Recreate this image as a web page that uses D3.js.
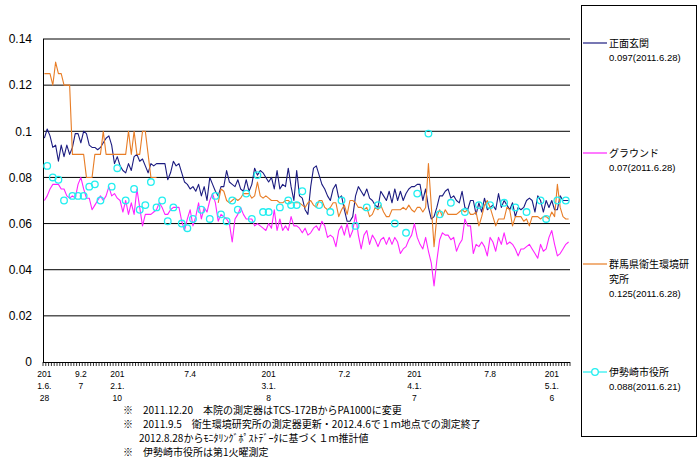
<!DOCTYPE html>
<html><head><meta charset="utf-8">
<script src="https://cdn.jsdelivr.net/npm/d3@7"></script>
<style>body{margin:0;background:#fff}svg{display:block}</style>
</head><body><svg id="c" width="700" height="470"></svg>
<script>
// ---- data ----
const N = 188; // weekly categories
const genkan = [.097,.101,.098,.093,.094,.087,.094,.089,.094,.090,.093,.099,.099,.095,.100,.099,.094,.093,.093,.092,
.093,.095,.097,.098,.094,.086,.089,.085,.083,.082,.086,.083,.089,.090,.087,.088,.085,.082,.086,.085,
.086,.086,.086,.086,.079,.082,.087,.085,.086,.082,.078,.077,.075,.076,.074,.077,.072,.076,.070,.080,
.077,.074,.072,.076,.076,.083,.078,.077,.076,.079,.075,.074,.079,.074,.077,.084,.081,.083,.082,.080,
.078,.080,.075,.083,.075,.077,.076,.084,.076,.070,.083,.072,.071,.066,.064,.076,.084,.085,.081,.077,
.075,.072,.070,.075,.077,.071,.072,.066,.061,.061,.063,.072,.076,.074,.072,.075,.071,.070,.068,.067,
.074,.072,.070,.074,.069,.075,.070,.074,.070,.073,.075,.076,.076,.077,.077,.070,.075,.067,.062,.063,
.067,.072,.072,.074,.075,.071,.072,.070,.069,.074,.067,.066,.070,.070,.064,.069,.065,.071,.066,.067,
.068,.066,.073,.067,.070,.068,.066,.069,.063,.067,.066,.067,.070,.071,.070,.065,.072,.070,.065,.070,
.067,.070,.066,.066,.072,.070,.070,.070];
const ground = [.070,.072,.075,.077,.077,.077,.075,.075,.072,.071,.072,.071,.077,.080,.075,.071,.071,.066,.068,.070,
.072,.070,.072,.076,.072,.073,.071,.070,.065,.070,.064,.069,.064,.075,.067,.059,.064,.064,.064,.065,
.066,.069,.067,.064,.064,.066,.067,.067,.067,.061,.057,.062,.066,.059,.063,.069,.062,.067,.065,.070,
.073,.069,.061,.064,.063,.062,.060,.052,.062,.064,.067,.064,.062,.062,.062,.059,.060,.059,.058,.057,
.060,.058,.066,.057,.062,.057,.059,.057,.063,.059,.059,.058,.056,.058,.055,.056,.058,.059,.057,.061,
.059,.054,.055,.054,.050,.057,.059,.055,.060,.054,.057,.064,.055,.049,.055,.057,.051,.055,.053,.050,
.053,.054,.051,.054,.051,.054,.052,.047,.049,.050,.053,.055,.060,.054,.051,.049,.054,.048,.043,.033,
.044,.053,.056,.055,.055,.053,.054,.048,.051,.053,.062,.059,.059,.047,.051,.050,.052,.050,.046,.054,
.052,.048,.054,.051,.056,.051,.052,.051,.049,.046,.049,.049,.050,.051,.049,.047,.045,.051,.048,.049,
.054,.057,.051,.046,.047,.049,.051,.052];
const gunma = [.125,.125,.125,.120,.130,.125,.125,.120,.120,.120,.090,.090,.090,.090,.090,.080,.080,.080,.090,.090,
.090,.100,.090,.090,.090,.090,.090,.090,.090,.090,.100,.090,.100,.090,.090,.100,.100,.090,.080,.080,
.080,null,null,null,null,null,null,null,null,null,null,null,null,null,null,null,null,null,null,null,
null,null,.069,.075,.074,.070,.069,.070,.071,.070,.071,.073,.073,.073,.071,.072,.078,.072,.071,.072,
.071,.070,.070,.070,.069,.069,.070,.070,.069,.069,.069,.069,.068,.067,.069,.070,.068,.067,.070,.070,
.067,.066,.067,.069,.069,.063,.066,.068,.064,.070,.070,.069,.067,.067,.066,.067,.063,.064,.067,.066,
.068,.065,.063,.063,.066,.066,.066,.066,.067,.066,.068,.066,.065,.067,.067,.065,.067,.086,.068,.050,
.063,.066,.063,.066,.064,.064,.064,.064,.065,.066,.065,.066,.064,.064,.065,.059,.063,.068,.070,.067,
.063,.059,.062,.062,.062,.067,.066,.059,.063,.063,.063,.061,.062,.059,.063,.063,.063,.062,.063,.063,
.062,.065,.063,.077,.067,.063,.062,.062];
const cityIdx = [1,3,5,7,10,12,14,16,18,20,24,26,29,32,34,36,38,40,42,44,46,49,51,53,56,59,61,63,65,67,69,72,74,76,78,80,
84,87,88,90,92,98,102,106,111,115,119,125,129,133,137,141,145,150,155,159,164,168,172,177,179,183,186];
const cityVal = [.085,.080,.079,.070,.072,.072,.072,.076,.077,.070,.076,.084,.070,.075,.066,.068,.078,.067,.070,.061,.067,.060,.058,.062,.066,.062,.072,.064,.061,.070,.066,.073,.062,.081,.065,.065,
.067,.070,.068,.068,.074,.068,.065,.070,.059,.067,.068,.060,.056,.073,.099,.064,.069,.065,.068,.068,.069,.067,.065,.070,.062,.070,.070];
const yTicks = [0,0.02,0.04,0.06,0.08,0.1,0.12,0.14];
const xLabelIdx = [0,13,26,52,80,107,132,159,181];
const xLabels = [["201","1.6.","28"],["9.2","7"],["201","2.1.","10"],["7.4"],["201","3.1.","8"],["7.2"],["201","4.1.","7"],["7.8"],["201","5.1.","6"]];
const seriesNames = ["正面玄関","グラウンド","群馬県衛生環境研究所","伊勢崎市役所"];
const seriesNotes = ["0.097(2011.6.28)","0.07(2011.6.28)","0.125(2011.6.28)","0.088(2011.6.21)"];
const seriesColors = ["#1c1c80","#ff22ff","#e87d26","#22eef0"];
const notes = ["※　2011.12.20　本院の測定器はTCS-172BからPA1000に変更",
"※　2011.9.5　衛生環境研究所の測定器更新・2012.4.6で１ｍ地点での測定終了",
"2012.8.28からﾓﾆﾀﾘﾝｸﾞﾎﾟｽﾄﾃﾞｰﾀに基づく１ｍ推計値",
"※　伊勢崎市役所は第1火曜測定"];

// ---- drawing ----
const svg = d3.select("#c");
const L = 43, R = 570, T = 39, B = 362;
const x = d3.scaleBand().domain(d3.range(N)).range([L, R]).paddingInner(0).paddingOuter(0);
const cx = i => x(i) + x.bandwidth()/2;
const y = d3.scaleLinear().domain([0, 0.14]).range([B, T]);
const latin = "'Liberation Sans', Arial, sans-serif";
const jp = "'Noto Sans CJK JP', sans-serif";

// gridlines
svg.append("g").selectAll("line").data(yTicks.filter(d => d > 0)).join("line")
  .attr("x1", L).attr("x2", R).attr("y1", d => y(d)).attr("y2", d => y(d))
  .attr("stroke", "#000").attr("stroke-width", 1);

// y axis
const ya = svg.append("g").attr("transform", `translate(${L},0)`)
  .call(d3.axisLeft(y).tickValues(yTicks).tickSize(0).tickPadding(11).tickFormat(d => String(+d.toFixed(2))));
ya.select(".domain").remove();
ya.selectAll("text").attr("font-family", latin).attr("font-size", 12).attr("fill", "#000");
svg.append("line").attr("x1", L+0.5).attr("x2", L+0.5).attr("y1", T).attr("y2", B).attr("stroke", "#000");

// x axis line + dense ticks
svg.append("line").attr("x1", L).attr("x2", R).attr("y1", B+0.5).attr("y2", B+0.5).attr("stroke", "#000");
svg.append("g").selectAll("line").data(d3.range(N+1)).join("line")
  .attr("x1", i => i < N ? x(i) : R).attr("x2", i => i < N ? x(i) : R)
  .attr("y1", B).attr("y2", B+4).attr("stroke", "#000").attr("stroke-width", 0.8);

// x labels
const xl = svg.append("g").attr("font-family", latin).attr("font-size", 8.5).attr("text-anchor", "middle");
xLabelIdx.forEach((idx, k) => {
  xLabels[k].forEach((s, j) => {
    xl.append("text").attr("x", cx(idx)).attr("y", 377 + j*12).text(s);
  });
});

// lines
const line = d3.line().defined(d => d != null).x((d, i) => cx(i)).y(d => y(d));
[genkan, ground, gunma].forEach((arr, k) => {
  svg.append("path").datum(arr).attr("d", line).attr("fill", "none")
    .attr("stroke", seriesColors[k]).attr("stroke-width", 1.1).attr("stroke-linejoin", "round");
});
// city hall markers
svg.append("g").selectAll("circle").data(cityIdx).join("circle")
  .attr("cx", (d) => cx(d)).attr("cy", (d, i) => y(cityVal[i])).attr("r", 3.3)
  .attr("fill", "none").attr("stroke", seriesColors[3]).attr("stroke-width", 1.3);

// notes
const nt = svg.append("g").attr("font-family", jp).attr("font-size", 10).attr("fill", "#000");
nt.append("text").attr("x", 123).attr("y", 414).text(notes[0]);
nt.append("text").attr("x", 123).attr("y", 428).text(notes[1]);
nt.append("text").attr("x", 139).attr("y", 442).text(notes[2]);
nt.append("text").attr("x", 123).attr("y", 456).text(notes[3]);

// legend
svg.append("rect").attr("x", 581.5).attr("y", 5.5).attr("width", 115).attr("height", 431)
  .attr("fill", "none").attr("stroke", "#000");
const legY = [43, 153, 264, 372];
const lg = svg.append("g");
seriesNames.forEach((name, k) => {
  const ly = legY[k];
  lg.append("line").attr("x1", 583).attr("x2", 607).attr("y1", ly).attr("y2", ly)
    .attr("stroke", seriesColors[k]).attr("stroke-width", 1.2);
  if (k === 3) lg.append("circle").attr("cx", 595).attr("cy", ly).attr("r", 3.3)
    .attr("fill", "#fff").attr("stroke", seriesColors[3]).attr("stroke-width", 1.3);
  let lines = name.length > 8 ? [name.slice(0, 8), name.slice(8)] : [name];
  lines.forEach((s, j) => {
    lg.append("text").attr("x", 609).attr("y", ly + 4 + j*14.5).attr("font-family", jp)
      .attr("font-size", 10).text(s);
  });
  lg.append("text").attr("x", 609).attr("y", ly + 4 + (lines.length-1)*14.5 + 14)
    .attr("font-family", latin).attr("font-size", 9.5).text(seriesNotes[k]);
});
</script></body></html>
